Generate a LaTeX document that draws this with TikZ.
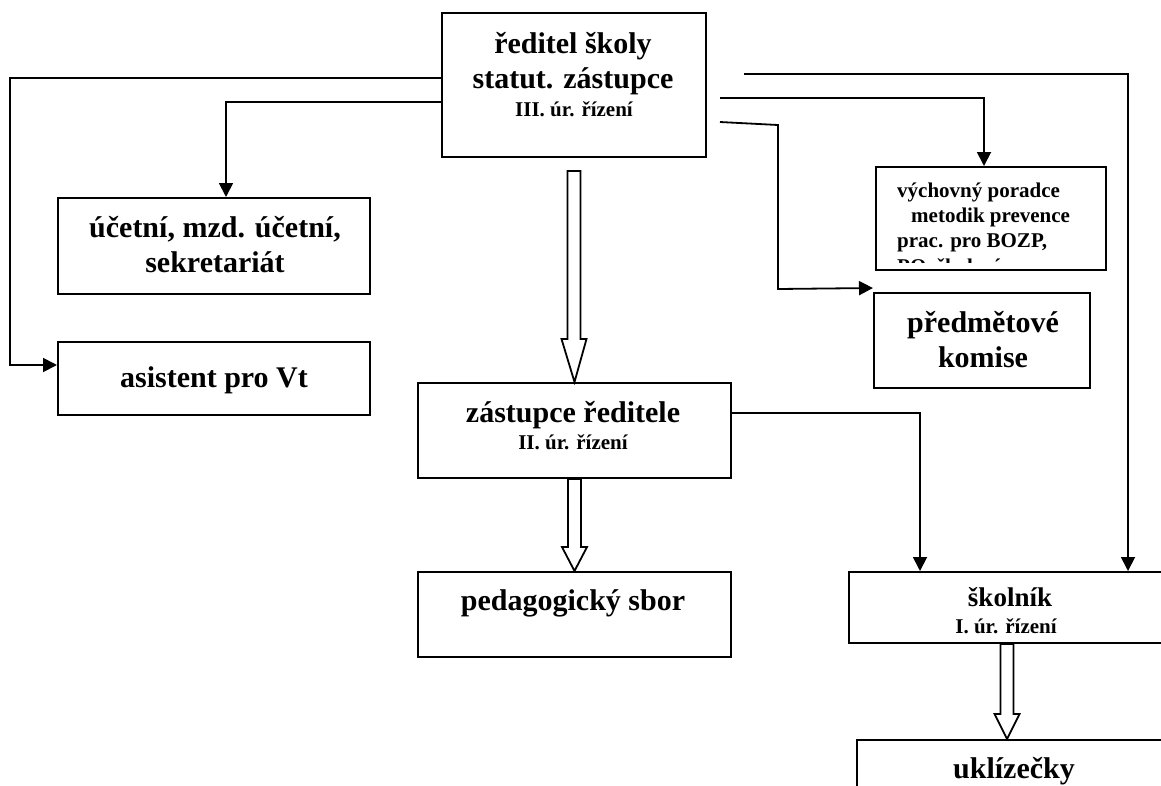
\documentclass[tikz,border=0pt]{standalone}
\usepackage{fontspec}
\setmainfont{Liberation Serif}
\usetikzlibrary{arrows.meta,calc}

\tikzset{
  box/.style={draw, line width=2pt, inner sep=0pt},
  big/.style={font=\bfseries\fontsize{30}{35}\selectfont, align=center, anchor=base, inner sep=0pt},
  mid/.style={font=\bfseries\fontsize{27}{31}\selectfont, align=center, anchor=base, inner sep=0pt},
  small/.style={font=\bfseries\fontsize{21}{25.3}\selectfont, align=center, anchor=base, inner sep=0pt},
  wire/.style={line width=1.8pt, -{Triangle[length=14pt,width=14pt]}},
  bigarr/.style={line width=1.8pt, fill=white, to path={
    let \p1=(\tikztostart), \p2=(\tikztotarget) in
    (\x1-6.5pt,\y1) -- (\x1+6.5pt,\y1) -- (\x1+6.5pt,\y2+#1) -- (\x1+12.5pt,\y2+#1)
    -- (\x2,\y2) -- (\x1-12.5pt,\y2+#1) -- (\x1-6.5pt,\y2+#1) -- cycle}},
  bigarr/.default=25
}

\begin{document}
\begin{tikzpicture}[x=1pt,y=-1pt]
\useasboundingbox (0,0) rectangle (1161,785);
\clip (0,0) rectangle (1161,785);

% boxes
\node[box, minimum width=264, minimum height=144] (ved) at (574,85){};
\node[box, minimum width=312, minimum height=96] (ucet) at (214,246){};
\node[box, minimum width=312, minimum height=73] (asist) at (214,378.5){};
\node[box, minimum width=230, minimum height=103] (vych) at (991,218.5){};
\node[box, minimum width=216, minimum height=95] (predm) at (982,340.5){};
\node[box, minimum width=313, minimum height=95] (zast) at (574.5,430.5){};
\node[box, minimum width=313, minimum height=85] (ped) at (574.5,614.5){};
\node[box, minimum width=326, minimum height=71] (skol) at (1012,607.5){};
\node[box, minimum width=312, minimum height=100] (ukl) at (1013,790){};

% texts (base = last line)
\node[big] (t-ved) at (573,88){ředitel školy\\statut. zástupce};
\node[small] (t-ved2) at (574,116){III. úr. řízení};
\node[big] (t-ucet) at (215,272){účetní, mzd. účetní,\\sekretariát};
\node[big] (t-asist) at (214,387){asistent pro Vt};
\begin{scope}
\clip (876,167) rectangle (1106,262);
\node[small, align=left, anchor=base west] (t-vych) at (897,273){výchovný poradce\\\hspace*{14pt}metodik prevence\\prac. pro BOZP,\\PO, školení};
\end{scope}
\node[big] (t-predm) at (983,367){předmětové\\komise};
\node[big] (t-zast) at (573,422){zástupce ředitele};
\node[small] (t-zast2) at (573,449){II. úr. řízení};
\node[big] (t-ped) at (573,610){pedagogický sbor};
\node[mid] (t-skol) at (1010,606){školník};
\node[small] (t-skol2) at (1006,633){I. úr. řízení};
\node[big] (t-ukl) at (1014,778){uklízečky};

% free ends on the right of the top box
\coordinate (ra) at (744,74);
\coordinate (rb) at (720,98);
\coordinate (rc) at (720,122);

% connectors
\draw[wire] (ved.west |- 0,78) -- (10,78) -- (10,365) -- (asist.west |- 0,365);
\draw[wire] (ved.west |- 0,102) -- (226,102) -- (ucet.north -| 226,0);
\draw[wire] (ra) -- (1128,74) -- (skol.north -| 1128,0);
\draw[wire] (rb) -- (984,98) -- (vych.north -| 984,0);
\draw[wire] (rc) -- (778,125) -- (778,289) -- ([yshift=4pt]predm.north west);
\draw[wire] (zast.east |- 0,413) -- (920,413) -- (skol.north -| 920,0);

% hollow arrows
\draw[bigarr=43] (574,171) to (zast.north);
\draw[bigarr=24] (zast.south) to (ped.north);
\draw[bigarr=25] (skol.south -| 1007,0) to (ukl.north -| 1007,0);

\end{tikzpicture}
\end{document}
